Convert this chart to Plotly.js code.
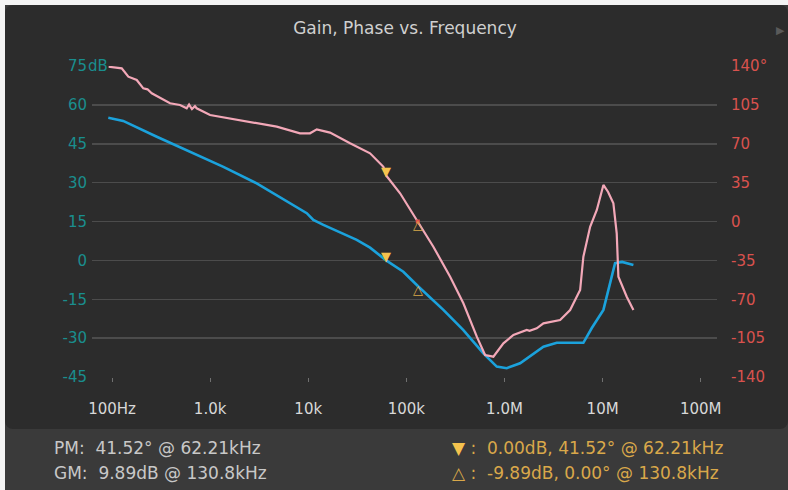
<!DOCTYPE html>
<html>
<head>
<meta charset="utf-8">
<script src="https://cdn.plot.ly/plotly-3.0.1.min.js"></script>
<style>
  html, body { margin: 0; padding: 0; background: #f4f4f4; }
  #wrap { position: relative; width: 788px; height: 490px; overflow: hidden; }
  #band { position: absolute; left: 5px; top: 5px; width: 783px; height: 485px; background: #3a3a3a; }
  #panel { position: absolute; left: 5px; top: 5px; width: 783px; height: 424px; background: #2c2c2c; border-radius: 8px; }
  #plot { position: absolute; left: 0; top: 0; width: 788px; height: 490px; }
</style>
</head>
<body>
<div id="wrap">
  <div id="band"></div>
  <div id="panel"></div>
  <div id="plot"></div>
</div>
<script>
// ---- data ----
const gainFreqHz = [91.6, 110, 130, 286, 624, 1365, 2985, 6531, 9660, 11270, 14260, 31190, 42660, 62210, 93110, 130800, 238300, 381100, 609500, 833700, 1054000, 1442000, 2495000, 3412000, 6368000, 7762000, 10190000, 13400000, 15810000, 20610000];
const gainDb     = [55.0, 54.5, 53.8, 47.7, 41.9, 36.1, 29.7, 22.0, 18.2, 15.6, 13.7, 7.9, 4.9, 0.0, -4.4, -9.89, -19.1, -26.9, -35.9, -41.0, -41.6, -39.7, -33.3, -31.8, -31.8, -26.1, -19.1, -1.1, -0.6, -1.8];

const phaseFreqHz = [91.6, 125.6, 146.6, 178.6, 208.4, 230, 254.1, 320, 390, 493, 577, 610, 653, 700, 729, 998, 1500, 2018, 3200, 4775, 8241, 10420, 12220, 16670, 26670, 42660, 58340, 62210, 86300, 130800, 188400, 279300, 381100, 522400, 633900, 770900, 975000, 1233000, 1687000, 1800000, 2133000, 2495000, 3690000, 4667000, 5902000, 6368000, 7464000, 8730000, 10190000, 11380000, 12880000, 13930000, 14490000, 17620000, 20610000];
const phaseDeg    = [139.4, 137.9, 130.4, 127.4, 119.9, 119.0, 115.4, 110.5, 106.4, 104.9, 101.9, 105.3, 101.3, 103.8, 101.9, 95.9, 93.2, 91.4, 88.6, 85.4, 79.4, 79.4, 83.0, 80.0, 70.4, 61.4, 49.3, 41.52, 25.4, 0.0, -22.7, -49.7, -73.6, -103.7, -120.2, -121.7, -109.7, -102.2, -97.7, -98.4, -96.2, -91.7, -88.7, -79.7, -61.7, -31.7, -4.7, 10.4, 32.9, 26.6, 16.4, -10.6, -49.7, -67.7, -79.7];

const pmFreqHz = 62210, pmGainDb = 0.00, pmPhaseDeg = 41.52;
const gmFreqHz = 130800, gmGainDb = -9.89, gmPhaseDeg = 0.00;

const xTickVals = [100, 1e3, 1e4, 1e5, 1e6, 1e7, 1e8];
const xTickText = ["100Hz", "1.0k", "10k", "100k", "1.0M", "10M", "100M"];
const gainTicks = [-45, -30, -15, 0, 15, 30, 45, 60, 75];
const gainTickText = ["-45", "-30", "-15", "0", "15", "30", "45", "60", "75"];
const phaseTicks = [-140, -105, -70, -35, 0, 35, 70, 105, 140];
const phaseTickText = ["-140", "-105", "-70", "-35", "0", "35", "70", "105", "140°"];

// ---- drawing ----
const FONT = "DejaVu Sans, Liberation Sans, sans-serif";
const L = 92, R = 71, T = 66, B = 113;
const W = 788 - L - R, H = 490 - T - B;
const px = x => (x - L) / W;
const py = y => (490 - B - y) / H;

const traces = [
  { x: phaseFreqHz, y: phaseDeg, yaxis: "y2", mode: "lines", line: { color: "#f3a8b8", width: 2.2 }, hoverinfo: "x+y" },
  { x: gainFreqHz, y: gainDb, yaxis: "y", mode: "lines", line: { color: "#1ba2dc", width: 2.6 }, hoverinfo: "x+y" },
  { x: [gmFreqHz], y: [gmPhaseDeg], yaxis: "y2", mode: "markers", marker: { symbol: "square", size: 4, color: "#e0504a" } }
];

const markerAnn = (x, y, yref, glyph, color, shift) => ({
  xref: "x", yref: yref, x: Math.log10(x), y: y, text: glyph, showarrow: false,
  xanchor: "center", yanchor: "middle", yshift: shift,
  font: { family: FONT, size: 13, color: color }
});

const layout = {
  width: 788, height: 490,
  margin: { l: L, r: R, t: T, b: B, pad: 0 },
  paper_bgcolor: "rgba(0,0,0,0)",
  plot_bgcolor: "rgba(0,0,0,0)",
  showlegend: false,
  font: { family: FONT, size: 15, color: "#d8d8d8" },
  title: {
    text: "Gain, Phase vs. Frequency",
    font: { family: FONT, size: 17, color: "#d0d0d0" },
    x: 405 / 788, xanchor: "center", y: 1 - 28 / 490, yanchor: "middle"
  },
  xaxis: {
    type: "log",
    range: [1.796, 8.166],
    tickvals: xTickVals, ticktext: xTickText,
    ticks: "outside", ticklen: 4, tickcolor: "#707070", tickwidth: 1,
    ticklabelstandoff: 14,
    showgrid: false, zeroline: false, showline: false,
    tickfont: { family: FONT, size: 15, color: "#d8d8d8" }
  },
  yaxis: {
    range: [-45, 75],
    tickvals: gainTicks, ticktext: gainTickText,
    ticks: "", ticklabelstandoff: 4,
    showgrid: true, gridcolor: "#4c4c4c", gridwidth: 1.5,
    zeroline: false, showline: false,
    tickfont: { family: FONT, size: 15, color: "#1a8e8e" }
  },
  yaxis2: {
    overlaying: "y", side: "right",
    range: [-140, 140],
    tickvals: phaseTicks, ticktext: phaseTickText,
    ticks: "", ticklabelstandoff: 13,
    showgrid: false, zeroline: false, showline: false,
    tickfont: { family: FONT, size: 15, color: "#d9524e" }
  },
  annotations: [
    { xref: "paper", yref: "y", x: px(87), y: 75, xanchor: "left", yanchor: "middle", text: "dB", showarrow: false,
      font: { family: FONT, size: 15, color: "#1a8e8e" }, bgcolor: "#2c2c2c", borderpad: 0 },
    { xref: "paper", yref: "paper", x: px(774), y: py(30), xanchor: "left", yanchor: "middle", text: "▶", showarrow: false,
      font: { family: FONT, size: 11, color: "#5a5a5a" } },
    markerAnn(pmFreqHz, pmPhaseDeg, "y2", "▼", "#f4c24e", 4),
    markerAnn(pmFreqHz, pmGainDb, "y", "▼", "#f4c24e", 4),
    markerAnn(gmFreqHz, gmPhaseDeg, "y2", "△", "#d9a84a", -3),
    markerAnn(gmFreqHz, gmGainDb, "y", "△", "#d9a84a", -3),
    { xref: "paper", yref: "paper", x: px(52), y: py(448), xanchor: "left", yanchor: "middle", showarrow: false,
      text: "PM:  " + pmPhaseDeg.toFixed(2) + "° @ 62.21kHz", font: { family: FONT, size: 17, color: "#c8c8c8" } },
    { xref: "paper", yref: "paper", x: px(52), y: py(473), xanchor: "left", yanchor: "middle", showarrow: false,
      text: "GM:  " + (-gmGainDb).toFixed(2) + "dB @ 130.8kHz", font: { family: FONT, size: 17, color: "#c8c8c8" } },
    { xref: "paper", yref: "paper", x: px(450), y: py(448), xanchor: "left", yanchor: "middle", showarrow: false,
      text: "<span style='color:#f4c24e'>▼</span> :  " + pmGainDb.toFixed(2) + "dB, " + pmPhaseDeg.toFixed(2) + "° @ 62.21kHz",
      font: { family: FONT, size: 17, color: "#d9a84a" } },
    { xref: "paper", yref: "paper", x: px(450), y: py(473), xanchor: "left", yanchor: "middle", showarrow: false,
      text: "△ :  " + gmGainDb.toFixed(2) + "dB, " + gmPhaseDeg.toFixed(2) + "° @ 130.8kHz",
      font: { family: FONT, size: 17, color: "#d9a84a" } }
  ]
};

Plotly.newPlot("plot", traces, layout, { displayModeBar: false, staticPlot: true });
</script>
</body>
</html>
